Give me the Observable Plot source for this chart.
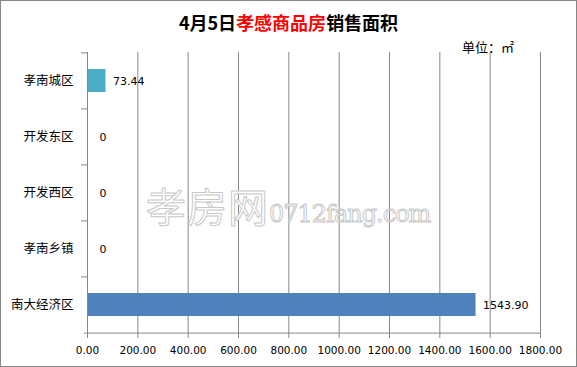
<!DOCTYPE html>
<html>
<head>
<meta charset="utf-8">
<script src="https://cdn.jsdelivr.net/npm/d3@7"></script>
<script src="https://cdn.jsdelivr.net/npm/@observablehq/plot@0.6"></script>
<style>
  html, body { margin: 0; padding: 0; background: #fff; }
  #wrap { position: relative; width: 577px; height: 367px; overflow: hidden; }
  #frame { position: absolute; left: 0; top: 0; width: 575px; height: 365px; border: 1px solid #868686; pointer-events: none; }
  #title { position: absolute; left: 0; width: 577px; top: 10px; text-align: center;
    font-family: "Noto Sans CJK SC", sans-serif; font-weight: bold; font-size: 18px; line-height: 24px; color: #000; }
  #title .red { color: #ff0000; }
  #unit { position: absolute; left: 462px; top: 38px; font-family: "Noto Sans CJK SC", sans-serif; font-size: 13px; line-height: 18px; color: #000; }
  #wm { position: absolute; left: 146px; top: 176px; white-space: nowrap; }
  #wm .a { font-family: "Noto Sans CJK SC", sans-serif; font-size: 40px; color: #fff; -webkit-text-stroke: 1px #c8c8c8; letter-spacing: 1px; }
  #wm .b { font-family: "DejaVu Serif", serif; font-size: 24px; color: #fff; -webkit-text-stroke: 1px #c8c8c8; letter-spacing: -1px; }
  #plot { position: absolute; left: 0; top: 0; }
</style>
</head>
<body>
<div id="wrap">
  <div id="plot"></div>
  <div id="wm"><span class="a">孝房网</span><span class="b">0712fang.com</span></div>
  <div id="title">4月5日<span class="red">孝感商品房</span>销售面积</div>
  <div id="unit">单位：㎡</div>
  <div id="frame"></div>
</div>
<script>
const categories = ["孝南城区", "开发东区", "开发西区", "孝南乡镇", "南大经济区"];
const values = [73.44, 0, 0, 0, 1543.90];
const valueLabels = ["73.44", "0", "0", "0", "1543.90"];
const barColors = ["#4BACC6", "#4BACC6", "#4BACC6", "#4BACC6", "#4F81BD"];
const xTicks = [0, 200, 400, 600, 800, 1000, 1200, 1400, 1600, 1800];

const data = categories.map((c, i) => ({cat: c, value: values[i], label: valueLabels[i], color: barColors[i]}));

const W = 577, H = 367;
const mL = 87, mR = 37, mT = 52, mB = 34;
const step = (H - mT - mB) / categories.length;
const gray = "#868686";
const tickUnits = 6 * 1800 / (W - mL - mR);

const chart = Plot.plot({
  width: W,
  height: H,
  marginLeft: mL,
  marginRight: mR,
  marginTop: mT,
  marginBottom: mB,
  style: {background: "transparent", fontFamily: "DejaVu Sans, sans-serif"},
  x: {domain: [0, 1800], ticks: xTicks},
  y: {domain: categories, paddingInner: 0.59, paddingOuter: 0.295},
  marks: [
    Plot.gridX(xTicks, {stroke: gray, strokeOpacity: 1, strokeWidth: 1}),
    Plot.barX(data, {x: "value", y: "cat", fill: "color"}),
    Plot.ruleX([0], {stroke: gray, strokeWidth: 1}),
    Plot.ruleY(categories, {y: d => d, dy: -step / 2, x1: -tickUnits, x2: 0, stroke: gray, clip: false}),
    Plot.ruleY([categories[categories.length - 1]], {y: d => d, dy: step / 2, x1: -tickUnits * 0.5, x2: 1800, stroke: gray}),
    Plot.axisX({ticks: xTicks, tickFormat: d => d.toFixed(2), tickSize: 5, tickPadding: 8,
      stroke: gray, fill: "#000", fontSize: 10.5, fontFamily: "DejaVu Sans, sans-serif", label: null}),
    Plot.axisY({tickSize: 0, tickPadding: 14, fontSize: 12.5, fill: "#000",
      fontFamily: "Noto Sans CJK SC, sans-serif", label: null}),
    Plot.text(data.filter(d => d.value > 0), {x: "value", y: "cat", text: "label", textAnchor: "start", dx: 7,
      fontSize: 11, fill: "#000", fontFamily: "DejaVu Sans, sans-serif"}),
    Plot.text(data.filter(d => d.value === 0), {x: "value", y: "cat", text: "label", textAnchor: "start", dx: 12,
      fontSize: 11, fill: "#000", fontFamily: "DejaVu Sans, sans-serif"})
  ]
});
document.getElementById("plot").appendChild(chart);
</script>
</body>
</html>
